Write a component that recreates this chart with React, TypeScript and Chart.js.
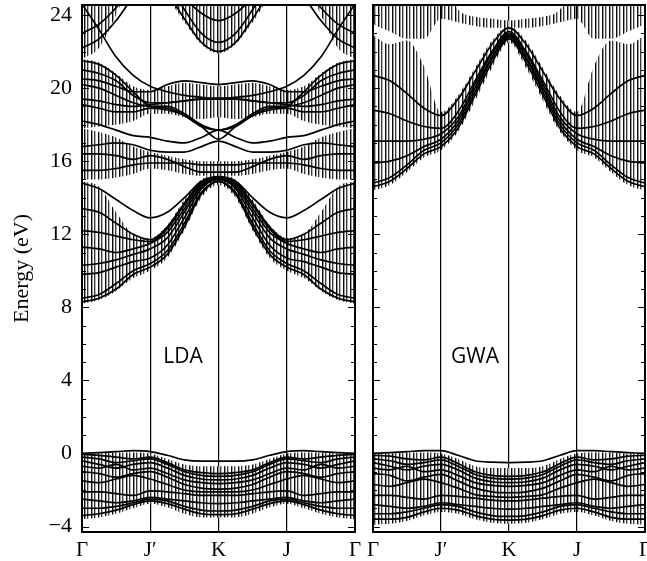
import React, { useEffect, useRef } from "react";
import { Chart, registerables } from "chart.js";

Chart.register(...registerables);

// k-path sample positions: Γ=0, J'=1, K=2, J=3, Γ=4
const kPoints = [0, 0.25, 0.5, 0.75, 1, 1.25, 1.5, 1.75, 2, 2.25, 2.5, 2.75, 3, 3.25, 3.5, 3.75, 4];
const kTicks = [0, 1, 2, 3, 4];
const kLabels = ["Γ", "J′", "K", "J", "Γ"];
const energyTicks = [-4, 0, 4, 8, 12, 16, 20, 24];
const energyLabels = ["−4", "0", "4", "8", "12", "16", "20", "24"];
const energyMin = -4.3;
const energyMax = 24.55;
const panelNames = ["LDA", "GWA"];
const panelLabelK = [1.48, 1.5];
const panelLabelE = 5.3;

// ---------- LDA ----------
const ldaValence = [
  [0.0, 0.05, 0.1, 0.15, 0.1, -0.1, -0.35, -0.42, -0.42, -0.42, -0.35, -0.1, 0.1, 0.15, 0.1, 0.05, 0.0],
  [-0.05, -0.1, -0.2, -0.3, -0.2, -0.5, -0.9, -1.05, -1.1, -1.05, -0.9, -0.5, -0.2, -0.3, -0.2, -0.1, -0.05],
  [-0.2, -0.3, -0.5, -0.4, -0.3, -0.6, -1.0, -1.2, -1.25, -1.2, -1.0, -0.6, -0.3, -0.4, -0.5, -0.3, -0.2],
  [-0.4, -0.6, -0.8, -0.6, -0.5, -0.8, -1.2, -1.4, -1.45, -1.4, -1.2, -0.8, -0.5, -0.6, -0.8, -0.6, -0.4],
  [-0.7, -0.8, -0.6, -0.9, -0.8, -1.1, -1.45, -1.6, -1.65, -1.6, -1.45, -1.1, -0.8, -0.9, -0.6, -0.8, -0.7],
  [-1.0, -1.1, -1.3, -1.1, -1.0, -1.3, -1.7, -1.9, -1.95, -1.9, -1.7, -1.3, -1.0, -1.1, -1.3, -1.1, -1.0],
  [-1.5, -1.6, -1.4, -1.2, -1.4, -1.7, -2.0, -2.1, -2.1, -2.1, -2.0, -1.7, -1.4, -1.2, -1.4, -1.6, -1.5],
  [-2.1, -2.1, -2.2, -2.3, -2.05, -2.1, -2.2, -2.3, -2.3, -2.3, -2.2, -2.1, -2.05, -2.3, -2.2, -2.1, -2.1],
  [-2.5, -2.6, -2.7, -2.6, -2.4, -2.5, -2.6, -2.7, -2.75, -2.7, -2.6, -2.5, -2.4, -2.6, -2.7, -2.6, -2.5],
  [-3.0, -3.0, -2.9, -2.7, -2.5, -2.6, -2.9, -3.1, -3.15, -3.1, -2.9, -2.6, -2.5, -2.7, -2.9, -3.0, -3.0],
  [-3.4, -3.3, -3.1, -2.8, -2.6, -2.75, -3.05, -3.3, -3.35, -3.3, -3.05, -2.75, -2.6, -2.8, -3.1, -3.3, -3.4],
];

const ldaConduction = [
  [8.3, 8.5, 9.0, 9.8, 10.2, 10.9, 12.4, 14.2, 14.9, 14.2, 12.4, 10.9, 10.2, 9.8, 9.0, 8.5, 8.3],
  [8.5, 8.7, 9.3, 10.0, 10.4, 11.1, 12.6, 14.3, 14.9, 14.3, 12.6, 11.1, 10.4, 10.0, 9.3, 8.7, 8.5],
  [9.8, 9.9, 10.2, 10.5, 10.7, 11.4, 12.9, 14.5, 15.0, 14.5, 12.9, 11.4, 10.7, 10.5, 10.2, 9.9, 9.8],
  [10.3, 10.4, 10.6, 10.9, 11.2, 11.8, 13.2, 14.6, 15.0, 14.6, 13.2, 11.8, 11.2, 10.9, 10.6, 10.4, 10.3],
  [11.3, 11.2, 11.0, 11.2, 11.5, 12.1, 13.4, 14.7, 15.05, 14.7, 13.4, 12.1, 11.5, 11.2, 11.0, 11.2, 11.3],
  [12.2, 12.1, 11.9, 11.7, 11.6, 12.3, 13.6, 14.8, 15.1, 14.8, 13.6, 12.3, 11.6, 11.7, 11.9, 12.1, 12.2],
  [13.4, 13.2, 12.6, 12.0, 11.7, 12.4, 13.7, 14.85, 15.1, 14.85, 13.7, 12.4, 11.7, 12.0, 12.6, 13.2, 13.4],
  [14.8, 14.5, 13.9, 13.3, 12.9, 13.2, 14.0, 14.9, 15.15, 14.9, 14.0, 13.2, 12.9, 13.3, 13.9, 14.5, 14.8],
  [15.5, 15.5, 15.6, 15.8, 15.9, 15.9, 15.9, 15.8, 15.8, 15.8, 15.9, 15.9, 15.9, 15.8, 15.6, 15.5, 15.5],
  [16.4, 16.4, 16.3, 16.1, 16.3, 16.1, 15.7, 15.4, 15.4, 15.4, 15.7, 16.1, 16.3, 16.1, 16.3, 16.4, 16.4],
  [16.8, 16.9, 17.0, 16.9, 16.6, 16.5, 16.5, 16.8, 17.1, 16.8, 16.5, 16.5, 16.6, 16.9, 17.0, 16.9, 16.8],
  [18.2, 18.0, 17.7, 17.4, 17.3, 17.1, 17.0, 17.3, 17.7, 17.3, 17.0, 17.1, 17.3, 17.4, 17.7, 18.0, 18.2],
  [19.1, 18.9, 18.7, 18.7, 18.9, 18.8, 18.5, 17.9, 17.2, 17.9, 18.5, 18.8, 18.9, 18.7, 18.7, 18.9, 19.1],
  [19.4, 19.3, 19.1, 19.0, 19.1, 19.2, 19.3, 19.4, 19.4, 19.4, 19.3, 19.2, 19.1, 19.0, 19.1, 19.3, 19.4],
  [20.2, 20.0, 19.6, 19.2, 19.0, 19.0, 18.6, 18.0, 17.7, 18.0, 18.6, 19.0, 19.0, 19.2, 19.6, 20.0, 20.2],
  [20.5, 20.4, 20.1, 19.8, 19.8, 20.2, 20.4, 20.3, 20.2, 20.3, 20.4, 20.2, 19.8, 19.8, 20.1, 20.4, 20.5],
  [24.6, 23.2, 21.7, 20.7, 20.1, 19.8, 19.6, 19.5, 19.45, 19.5, 19.6, 19.8, 20.1, 20.7, 21.7, 23.2, 24.6],
  [21.0, 20.8, 20.4, 19.6, 19.2, 19.2, 19.3, 19.4, 19.4, 19.4, 19.3, 19.2, 19.2, 19.6, 20.4, 20.8, 21.0],
  [21.5, 21.3, 20.7, 19.8, 19.0, 18.9, 18.5, 17.9, 17.7, 17.9, 18.5, 18.9, 19.0, 19.8, 20.7, 21.3, 21.5],
  [22.2, 22.7, 23.7, 25.0, 26, 26, 26, 26, 26, 26, 26, 26, 26, 25.0, 23.7, 22.7, 22.2],
  [23.0, 23.5, 24.4, 25.5, 26, 26, 26, 26, 26, 26, 26, 26, 26, 25.5, 24.4, 23.5, 23.0],
  [27, 27, 27, 26.5, 26, 25.2, 23.8, 22.5, 22.0, 22.5, 23.8, 25.2, 26, 26.5, 27, 27, 27],
  [28, 28, 28, 27.5, 27, 25.8, 24.3, 23.0, 22.5, 23.0, 24.3, 25.8, 27, 27.5, 28, 28, 28],
  [29, 29, 29, 28.5, 28, 26.5, 25.0, 24.1, 23.7, 24.1, 25.0, 26.5, 28, 28.5, 29, 29, 29],
];

// error-bar (hatched) regions: [lower, upper] pairs
const ldaHatchLower = [
  [-3.6, -3.5, -3.3, -3.0, -2.75, -2.95, -3.3, -3.5, -3.5, -3.5, -3.3, -2.95, -2.75, -3.0, -3.3, -3.5, -3.6],
  [8.2, 8.4, 8.9, 9.6, 10.0, 10.7, 12.2, 14.0, 14.7, 14.0, 12.2, 10.7, 10.0, 9.6, 8.9, 8.4, 8.2],
  [15.0, 15.0, 15.1, 15.3, 15.6, 15.5, 15.3, 15.2, 15.2, 15.2, 15.3, 15.5, 15.6, 15.3, 15.1, 15.0, 15.0],
  [17.8, 17.9, 18.0, 18.2, 18.6, 18.6, 18.4, 18.3, 18.4, 18.3, 18.4, 18.6, 18.6, 18.2, 18.0, 17.9, 17.8],
  [21.6, 22.2, 24.0, 26, 26, 25.0, 23.6, 22.4, 21.9, 22.4, 23.6, 25.0, 26, 26, 24.0, 22.2, 21.6],
];
const ldaHatchUpper = [
  [0.0, 0.0, 0.05, 0.05, 0.0, -0.3, -0.6, -0.7, -0.7, -0.7, -0.6, -0.3, 0.0, 0.05, 0.05, 0.0, 0.0],
  [14.9, 14.6, 13.2, 12.0, 11.8, 12.5, 13.9, 15.0, 15.3, 15.0, 13.9, 12.5, 11.8, 12.0, 13.2, 14.6, 14.9],
  [17.8, 17.6, 17.3, 16.8, 16.5, 16.3, 16.1, 16.0, 16.0, 16.0, 16.1, 16.3, 16.5, 16.8, 17.3, 17.6, 17.8],
  [21.6, 21.4, 20.8, 20.1, 19.9, 20.1, 20.3, 20.2, 20.1, 20.2, 20.3, 20.1, 19.9, 20.1, 20.8, 21.4, 21.6],
  [26, 26, 26, 26, 26, 26, 26, 26, 26, 26, 26, 26, 26, 26, 26, 26, 26],
];

// ---------- GWA ----------
const gwaValence = [
  [0.0, 0.05, 0.1, 0.15, 0.15, -0.1, -0.4, -0.48, -0.5, -0.48, -0.4, -0.1, 0.15, 0.15, 0.1, 0.05, 0.0],
  [-0.1, -0.15, -0.3, -0.35, -0.2, -0.55, -1.0, -1.2, -1.25, -1.2, -1.0, -0.55, -0.2, -0.35, -0.3, -0.15, -0.1],
  [-0.3, -0.4, -0.6, -0.5, -0.35, -0.7, -1.15, -1.35, -1.4, -1.35, -1.15, -0.7, -0.35, -0.5, -0.6, -0.4, -0.3],
  [-0.5, -0.7, -0.9, -0.7, -0.6, -0.9, -1.35, -1.55, -1.6, -1.55, -1.35, -0.9, -0.6, -0.7, -0.9, -0.7, -0.5],
  [-0.8, -0.9, -0.7, -1.0, -0.9, -1.2, -1.6, -1.75, -1.8, -1.75, -1.6, -1.2, -0.9, -1.0, -0.7, -0.9, -0.8],
  [-1.1, -1.2, -1.5, -1.3, -1.15, -1.5, -1.9, -2.1, -2.15, -2.1, -1.9, -1.5, -1.15, -1.3, -1.5, -1.2, -1.1],
  [-1.7, -1.8, -1.6, -1.4, -1.6, -1.9, -2.25, -2.35, -2.4, -2.35, -2.25, -1.9, -1.6, -1.4, -1.6, -1.8, -1.7],
  [-2.3, -2.3, -2.4, -2.5, -2.3, -2.35, -2.45, -2.55, -2.6, -2.55, -2.45, -2.35, -2.3, -2.5, -2.4, -2.3, -2.3],
  [-2.8, -2.9, -3.0, -2.9, -2.7, -2.8, -2.9, -3.0, -3.05, -3.0, -2.9, -2.8, -2.7, -2.9, -3.0, -2.9, -2.8],
  [-3.3, -3.3, -3.2, -3.0, -2.8, -2.9, -3.2, -3.4, -3.45, -3.4, -3.2, -2.9, -2.8, -3.0, -3.2, -3.3, -3.3],
  [-3.6, -3.6, -3.5, -3.2, -3.0, -3.1, -3.4, -3.6, -3.65, -3.6, -3.4, -3.1, -3.0, -3.2, -3.5, -3.6, -3.6],
];

const gwaConduction = [
  [14.6, 14.9, 15.6, 16.4, 16.8, 17.8, 19.6, 21.4, 22.7, 21.4, 19.6, 17.8, 16.8, 16.4, 15.6, 14.9, 14.6],
  [14.8, 15.1, 15.8, 16.6, 17.0, 18.0, 19.8, 21.6, 22.8, 21.6, 19.8, 18.0, 17.0, 16.6, 15.8, 15.1, 14.8],
  [15.9, 16.0, 16.3, 16.8, 17.2, 18.2, 20.0, 21.7, 22.9, 21.7, 20.0, 18.2, 17.2, 16.8, 16.3, 16.0, 15.9],
  [17.1, 17.1, 17.1, 17.2, 17.5, 18.4, 20.2, 21.9, 23.0, 21.9, 20.2, 18.4, 17.5, 17.2, 17.1, 17.1, 17.1],
  [18.8, 18.6, 18.2, 17.9, 17.8, 18.7, 20.4, 22.0, 23.1, 22.0, 20.4, 18.7, 17.8, 17.9, 18.2, 18.6, 18.8],
  [20.7, 20.4, 19.7, 18.9, 18.5, 19.4, 20.9, 22.4, 23.3, 22.4, 20.9, 19.4, 18.5, 18.9, 19.7, 20.4, 20.7],
];

const gwaHatchLower = [
  [-3.9, -3.85, -3.7, -3.4, -3.2, -3.3, -3.6, -3.8, -3.85, -3.8, -3.6, -3.3, -3.2, -3.4, -3.7, -3.85, -3.9],
  [14.4, 14.7, 15.4, 16.2, 16.6, 17.6, 19.3, 21.1, 22.5, 21.1, 19.3, 17.6, 16.6, 16.2, 15.4, 14.7, 14.4],
  [23.5, 23.1, 22.7, 22.7, 23.8, 23.6, 23.4, 23.3, 23.3, 23.3, 23.4, 23.6, 23.8, 22.7, 22.7, 23.1, 23.5],
];
const gwaHatchUpper = [
  [0.0, 0.0, 0.05, 0.05, 0.0, -0.3, -0.7, -0.8, -0.8, -0.8, -0.7, -0.3, 0.0, 0.05, 0.05, 0.0, 0.0],
  [22.9, 22.4, 22.6, 21.2, 18.7, 19.6, 21.1, 22.6, 23.4, 22.6, 21.1, 19.6, 18.7, 21.2, 22.6, 22.4, 22.9],
  [26, 26, 26, 26, 26, 24.3, 23.9, 23.8, 23.7, 23.8, 23.9, 24.3, 26, 26, 26, 26, 26],
];

const SERIF = '"Liberation Serif", "DejaVu Serif", serif';

function toPoints(values: number[]) {
  return values.map((y, i) => ({ x: kPoints[i], y }));
}

function makeHatch(): CanvasPattern | string {
  const c = document.createElement("canvas");
  c.width = 7;
  c.height = 2;
  const g = c.getContext("2d");
  if (!g) return "#777";
  g.fillStyle = "#0d0d0d";
  g.fillRect(0, 0, 1, 2);
  g.fillStyle = "#9a9a9a";
  g.fillRect(1, 0, 1, 2);
  g.fillStyle = "#3a3a3a";
  g.fillRect(3, 0, 1, 2);
  g.fillStyle = "#b5b5b5";
  g.fillRect(4, 0, 1, 2);
  const p = g.createPattern(c, "repeat");
  return p || "#777";
}

const framePlugin = {
  id: "frame",
  afterDraw(chart: any, _args: any, opts: any) {
    const { ctx, chartArea } = chart;
    const { left, right, top, bottom } = chartArea;
    const ys = chart.scales.y;
    const xs = chart.scales.x;
    ctx.save();
    ctx.strokeStyle = "#000";
    ctx.lineWidth = 1.2;
    ctx.beginPath();
    for (let v = Math.ceil(ys.min); v <= ys.max; v++) {
      const py = Math.round(ys.getPixelForValue(v)) + 0.5;
      const len = v % 4 === 0 ? 7 : 4;
      ctx.moveTo(left, py);
      ctx.lineTo(left + len, py);
      ctx.moveTo(right, py);
      ctx.lineTo(right - len, py);
    }
    ctx.stroke();
    ctx.lineWidth = 2;
    ctx.strokeRect(left, top, right - left, bottom - top);
    ctx.fillStyle = "#000";
    ctx.font = '21px "Open Sans", "DejaVu Sans", sans-serif';
    ctx.textAlign = "center";
    ctx.textBaseline = "middle";
    ctx.fillText(opts.label, xs.getPixelForValue(opts.labelK), ys.getPixelForValue(opts.labelE));
    ctx.restore();
  },
};

function buildDatasets(
  bands: number[][],
  hatchLo: number[][],
  hatchHi: number[][],
  pattern: CanvasPattern | string
) {
  const ds: any[] = [];
  hatchLo.forEach((lo, i) => {
    ds.push({
      data: toPoints(lo),
      borderColor: "rgba(0,0,0,0)",
      borderWidth: 1,
      pointRadius: 0,
      fill: false,
      cubicInterpolationMode: "monotone",
      order: 10,
    });
    ds.push({
      data: toPoints(hatchHi[i]),
      borderColor: "rgba(0,0,0,0)",
      borderWidth: 1,
      pointRadius: 0,
      fill: "-1",
      backgroundColor: pattern,
      cubicInterpolationMode: "monotone",
      order: 10,
    });
  });
  bands.forEach((b) => {
    ds.push({
      data: toPoints(b),
      borderColor: "#000",
      borderWidth: 1.7,
      pointRadius: 0,
      fill: false,
      cubicInterpolationMode: "monotone",
      order: 0,
    });
  });
  return ds;
}

function makeConfig(panel: number, datasets: any[], withAxis: boolean, padRight: number, yWidth: number): any {
  return {
    type: "line",
    data: { datasets },
    plugins: [framePlugin],
    options: {
      responsive: false,
      animation: false,
      events: [],
      layout: { padding: { left: 0, right: padRight, top: 5, bottom: 0 } },
      plugins: {
        legend: { display: false },
        tooltip: { enabled: false },
        frame: { label: panelNames[panel], labelK: panelLabelK[panel], labelE: panelLabelE },
      },
      scales: {
        x: {
          type: "linear",
          min: 0,
          max: 4,
          afterBuildTicks: (s: any) => {
            s.ticks = kTicks.map((v) => ({ value: v }));
          },
          afterFit: (s: any) => {
            s.height = 29;
            s.paddingLeft = 0;
            s.paddingRight = 0;
          },
          ticks: {
            callback: (_v: any, i: number) => kLabels[i],
            color: "#000",
            font: { family: SERIF, size: 21 },
            padding: 6,
            maxRotation: 0,
            autoSkip: false,
          },
          grid: { color: "#000", lineWidth: 1.2, drawTicks: false, drawOnChartArea: true },
          border: { display: false },
        },
        y: {
          type: "linear",
          min: energyMin,
          max: energyMax,
          afterBuildTicks: (s: any) => {
            s.ticks = energyTicks.map((v) => ({ value: v }));
          },
          afterFit: (s: any) => {
            s.width = yWidth;
            s.paddingTop = 0;
            s.paddingBottom = 0;
          },
          ticks: {
            display: withAxis,
            callback: (_v: any, i: number) => energyLabels[i],
            color: "#000",
            font: { family: SERIF, size: 22 },
            padding: 2,
            autoSkip: false,
          },
          grid: { display: false },
          border: { display: false },
          title: {
            display: withAxis,
            text: "Energy (eV)",
            color: "#000",
            font: { family: SERIF, size: 22 },
            padding: { top: 9, bottom: 0 },
          },
        },
      },
    },
  };
}

export default function App() {
  const leftRef = useRef<HTMLCanvasElement | null>(null);
  const rightRef = useRef<HTMLCanvasElement | null>(null);

  useEffect(() => {
    const pattern = makeHatch();
    const charts: Chart[] = [];
    if (leftRef.current) {
      const ds = buildDatasets([...ldaValence, ...ldaConduction], ldaHatchLower, ldaHatchUpper, pattern);
      charts.push(new Chart(leftRef.current, makeConfig(0, ds, true, 9, 82)));
    }
    if (rightRef.current) {
      const ds = buildDatasets([...gwaValence, ...gwaConduction], gwaHatchLower, gwaHatchUpper, pattern);
      charts.push(new Chart(rightRef.current, makeConfig(1, ds, false, 2, 9)));
    }
    return () => charts.forEach((c) => c.destroy());
  }, []);

  return (
    <div style={{ position: "absolute", left: 0, top: 0, width: 647, height: 561, background: "#fff" }}>
      <canvas ref={leftRef} width={364} height={561} style={{ position: "absolute", left: 0, top: 0, width: 364, height: 561 }} />
      <canvas ref={rightRef} width={283} height={561} style={{ position: "absolute", left: 364, top: 0, width: 283, height: 561 }} />
    </div>
  );
}
